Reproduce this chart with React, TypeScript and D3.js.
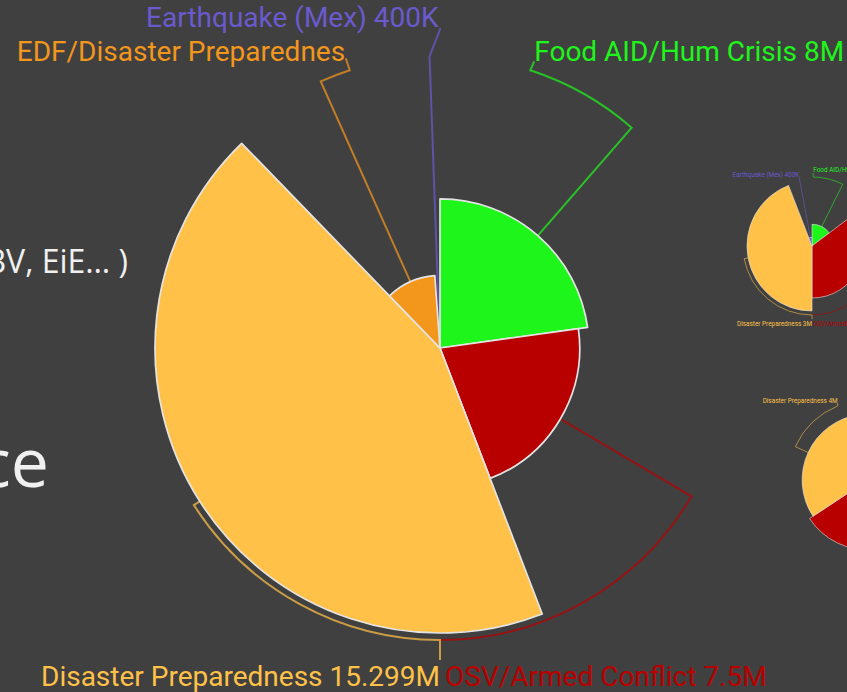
import React from "react";
import * as d3 from "d3";

// ---------- DATA ----------
const mainCategories = ["Food AID/Hum Crisis", "OSV/Armed Conflict", "Disaster Preparedness", "EDF/Disaster Preparedness", "Earthquake (Mex)"];
const mainValues = [8, 7.5, 15.299, 3.9, 0.4];
const mainValueLabels = ["8M", "7.5M", "15.299M", "3.9M", "400K"];

const topRightCategories = ["Food AID/Hum Crisis", "OSV/Armed Conflict", "Disaster Preparedness", "Earthquake (Mex)"];
const topRightValues = [1, 2.4, 3, 0.4];
const topRightValueLabels = ["1M", "2.4M", "3M", "400K"];

const bottomRightCategories = ["Food AID/Hum Crisis", "OSV/Armed Conflict", "Disaster Preparedness", "EDF/Disaster Preparedness"];
const bottomRightValues = [3.9, 4.25, 4, 0.25];
const bottomRightValueLabels = ["3.9M", "4.25M", "4M", "250K"];

const categoryColors: Record<string, string> = {
  "Food AID/Hum Crisis": "#1ef51a",
  "OSV/Armed Conflict": "#b80000",
  "Disaster Preparedness": "#ffc148",
  "EDF/Disaster Preparedness": "#f3961c",
  "Earthquake (Mex)": "#6a5acd",
};

// ---------- LAYOUT (label routing) ----------
type LabelCfg = {
  arcEnd: number | null; // degrees, clockwise from 12 o'clock
  tail: [number, number];
  text: [number, number];
  anchor: "start" | "end";
  clipRight?: number;
};
type ChartCfg = {
  id: string;
  cx: number;
  cy: number;
  R: number;
  labelR: number;
  font: number;
  lineW: number;
  borderW: number;
  labels: LabelCfg[];
};

const mainCfg: ChartCfg = {
  id: "main",
  cx: 440,
  cy: 348,
  R: 285,
  labelR: 292,
  font: 28,
  lineW: 2,
  borderW: 1.7,
  labels: [
    { arcEnd: 18, tail: [4, -9], text: [0, 0], anchor: "start" },
    { arcEnd: 180, tail: [0, 0], text: [5, 46], anchor: "start" },
    { arcEnd: 180, tail: [0, 20], text: [0, 26], anchor: "end" },
    { arcEnd: 342, tail: [-4, -12], text: [-329, 3], anchor: "start", clipRight: 345 },
    { arcEnd: null, tail: [11, -28], text: [-2, -1], anchor: "end" },
  ],
};

const topRightCfg: ChartCfg = {
  id: "tr",
  cx: 812,
  cy: 246,
  R: 65,
  labelR: 69,
  font: 6.4,
  lineW: 0.8,
  borderW: 0.6,
  labels: [
    { arcEnd: 1, tail: [0, -4], text: [0, -1], anchor: "start" },
    { arcEnd: 180, tail: [0, 0], text: [1, 11], anchor: "start" },
    { arcEnd: 180, tail: [0, 4], text: [0, 7], anchor: "end" },
    { arcEnd: null, tail: [0, -1], text: [0, 0], anchor: "end" },
  ],
};

const bottomRightCfg: ChartCfg = {
  id: "br",
  cx: 868,
  cy: 480,
  R: 70,
  labelR: 80,
  font: 6.4,
  lineW: 0.8,
  borderW: 0.6,
  labels: [
    { arcEnd: null, tail: [4, 0], text: [1, 2], anchor: "start" },
    { arcEnd: 180, tail: [0, 0], text: [1, 11], anchor: "start" },
    { arcEnd: 337.7, tail: [0, -3], text: [0, 0], anchor: "end" },
    { arcEnd: 20, tail: [3, -3], text: [1, 0], anchor: "start" },
  ],
};

const rad = (deg: number) => (deg * Math.PI) / 180;

// pick the short way round between the slice mid-angle and the label angle
function labelAngle(mid: number, arcEnd: number | null) {
  if (arcEnd === null) return mid;
  let a = rad(arcEnd);
  while (a - mid > Math.PI) a -= 2 * Math.PI;
  while (a - mid < -Math.PI) a += 2 * Math.PI;
  return a;
}

function RoseChart({ cfg, categories, values, valueLabels }: { cfg: ChartCfg; categories: string[]; values: number[]; valueLabels: string[] }) {
  const pie = d3.pie<number>().sort(null).value((d) => d).startAngle(0).endAngle(2 * Math.PI);
  const arcs = pie(values);
  const rScale = d3.scaleLinear().domain([0, d3.max(values) as number]).range([0, cfg.R]);
  const arcGen = d3.arc<d3.PieArcDatum<number>>().innerRadius(0).outerRadius((d) => rScale(d.data));
  const polar = (r: number, a: number): [number, number] => [cfg.cx + r * Math.sin(a), cfg.cy - r * Math.cos(a)];

  return (
    <g>
      <defs>
        {cfg.labels.map((l, i) =>
          l.clipRight !== undefined ? (
            <clipPath id={`clip-${cfg.id}-${i}`} key={i}>
              <rect x={0} y={0} width={l.clipRight} height={692} />
            </clipPath>
          ) : null
        )}
      </defs>
      {/* label lines */}
      {arcs.map((a, i) => {
        const l = cfg.labels[i];
        const mid = (a.startAngle + a.endAngle) / 2;
        const r = rScale(a.data);
        const p0 = polar(r, mid);
        const p1 = polar(cfg.labelR, mid);
        const path = d3.path();
        path.moveTo(p0[0], p0[1]);
        path.lineTo(p1[0], p1[1]);
        const endA = labelAngle(mid, l.arcEnd);
        if (endA !== mid) {
          path.arc(cfg.cx, cfg.cy, cfg.labelR, mid - Math.PI / 2, endA - Math.PI / 2, endA < mid);
        }
        const pe = polar(cfg.labelR, endA);
        path.lineTo(pe[0] + l.tail[0], pe[1] + l.tail[1]);
        return (
          <path
            key={`line-${i}`}
            d={path.toString()}
            fill="none"
            stroke={categoryColors[categories[i]]}
            strokeOpacity={0.72}
            strokeWidth={cfg.lineW}
          />
        );
      })}
      {/* slices */}
      {arcs.map((a, i) => (
        <path
          key={`slice-${i}`}
          transform={`translate(${cfg.cx},${cfg.cy})`}
          d={arcGen(a) || ""}
          fill={categoryColors[categories[i]]}
          stroke="#e4e4e4"
          strokeWidth={cfg.borderW}
          strokeLinejoin="round"
        />
      ))}
      {/* labels */}
      {arcs.map((a, i) => {
        const l = cfg.labels[i];
        const mid = (a.startAngle + a.endAngle) / 2;
        const endA = labelAngle(mid, l.arcEnd);
        const pe = polar(cfg.labelR, endA);
        const x = pe[0] + l.tail[0] + l.text[0];
        const y = pe[1] + l.tail[1] + l.text[1];
        return (
          <text
            key={`label-${i}`}
            x={x}
            y={y}
            textAnchor={l.anchor}
            fill={categoryColors[categories[i]]}
            fontFamily="Roboto, 'Noto Sans', sans-serif"
            fontSize={cfg.font}
            clipPath={l.clipRight !== undefined ? `url(#clip-${cfg.id}-${i})` : undefined}
          >
            {`${categories[i]} ${valueLabels[i]}`}
          </text>
        );
      })}
    </g>
  );
}

export default function App() {
  return (
    <svg
      width={847}
      height={692}
      style={{ position: "absolute", left: 0, top: 0, display: "block", background: "#404040" }}
    >
      <rect x={0} y={0} width={847} height={692} fill="#404040" />
      {/* slide text behind the charts */}
      <text x={128} y={273} textAnchor="end" fill="#f0f0f0" fontFamily="'Open Sans', sans-serif" fontSize={32}>
        GBV, EiE… )
      </text>
      <text x={49} y={487} textAnchor="end" fill="#f0f0f0" fontFamily="'Open Sans', sans-serif" fontSize={68}>
        Assistance
      </text>
      <RoseChart cfg={topRightCfg} categories={topRightCategories} values={topRightValues} valueLabels={topRightValueLabels} />
      <RoseChart cfg={bottomRightCfg} categories={bottomRightCategories} values={bottomRightValues} valueLabels={bottomRightValueLabels} />
      <RoseChart cfg={mainCfg} categories={mainCategories} values={mainValues} valueLabels={mainValueLabels} />
    </svg>
  );
}
